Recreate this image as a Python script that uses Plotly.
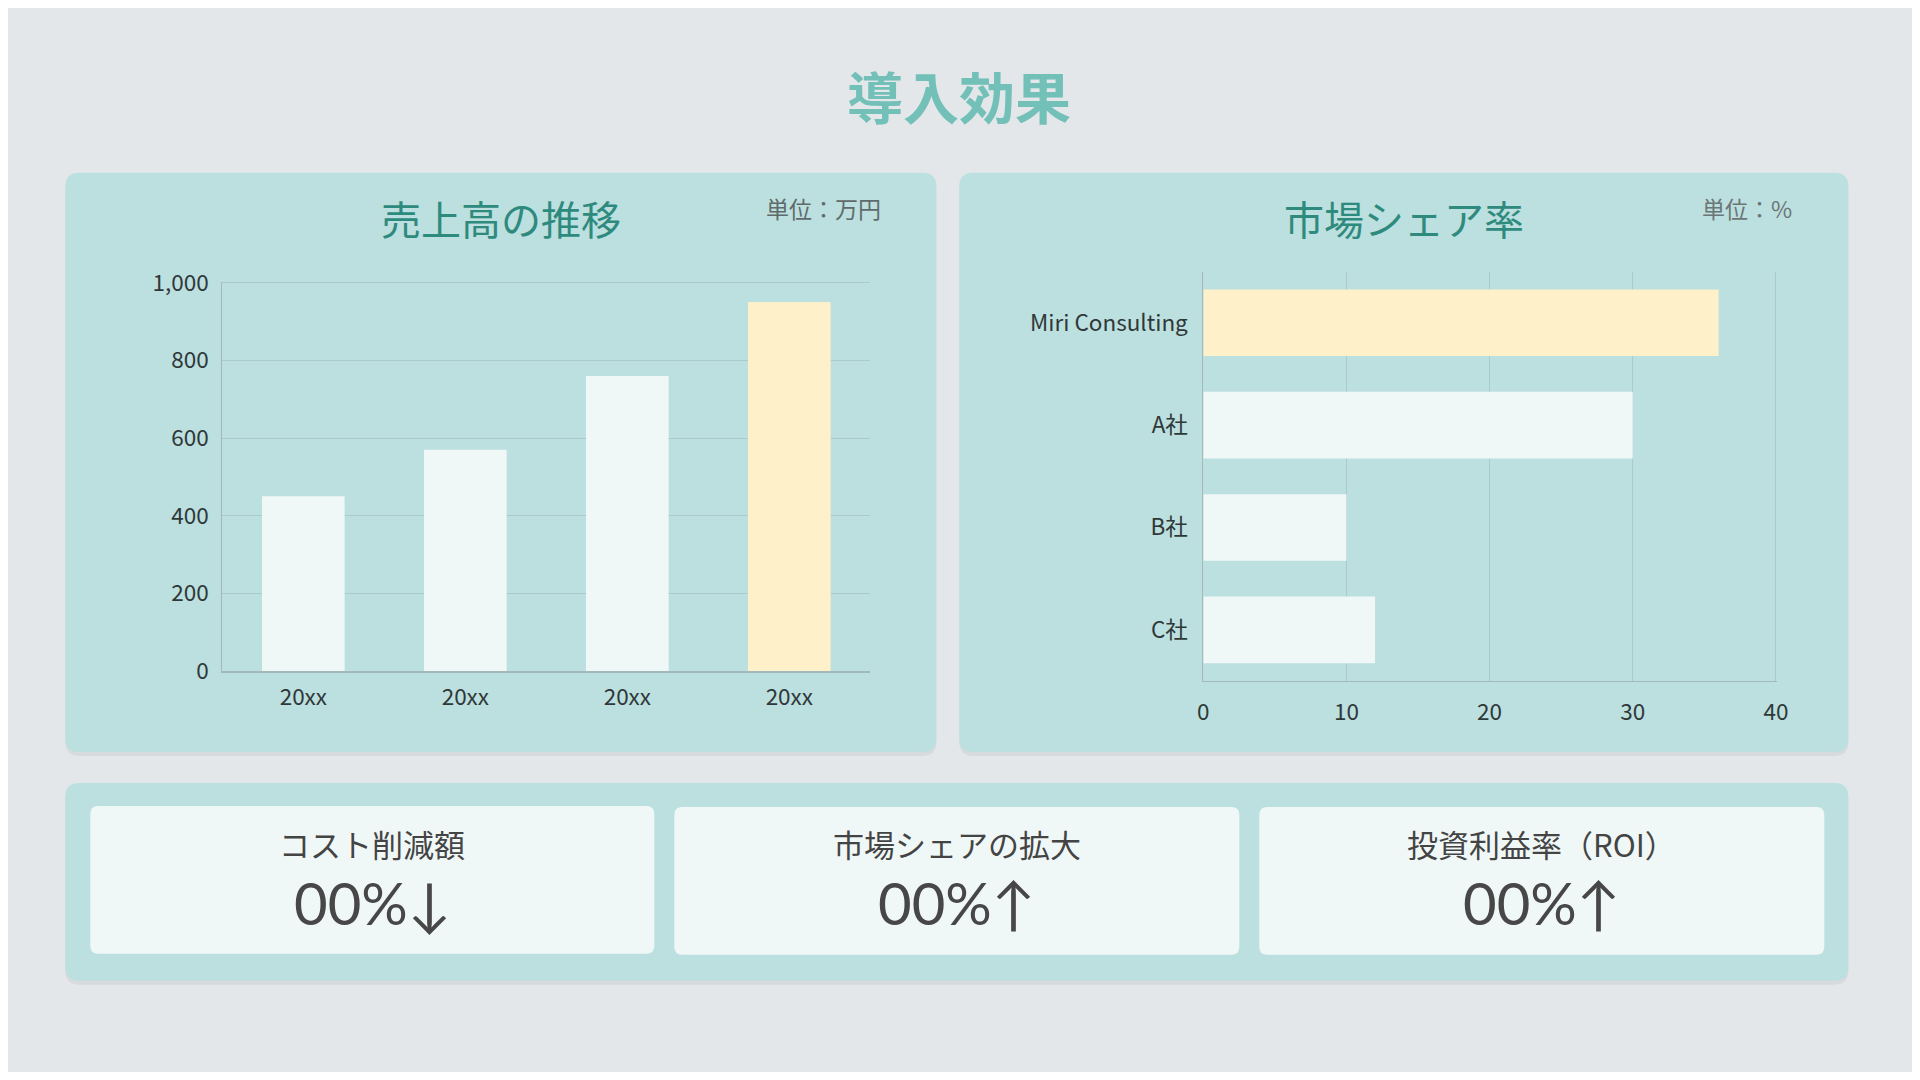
import plotly.graph_objects as go

# ── データ ─────────────────────────────────────────────
sales_years = ["20xx", "20xx", "20xx", "20xx"]
sales_values = [450, 570, 760, 950]

share_companies = ["Miri Consulting", "A社", "B社", "C社"]
share_values = [36, 30, 10, 12]

kpi_labels = ["コスト削減額", "市場シェアの拡大", "投資利益率（ROI）"]
kpi_values = ["00%↓", "00%↑", "00%↑"]

# ── 色・フォント ───────────────────────────────────────
OFF = 8
W, H = 1920 - 2 * OFF, 1080 - 2 * OFF
BG = "#e3e7ea"
PANEL = "#bcdfdf"
CARD = "#f0f8f7"
BAR = "#f0f8f7"
HILITE = "#fef0c8"
GRID = "#a9cbcb"
AXIS = "#a3b9b9"
FONT = "Noto Sans CJK JP"


# 参照画像のピクセル位置 → 図の paper 座標（表示時のずれを補正）
def px_x(x):
    return (1.009 * x - 6.8 - OFF) / W


def px_y(y):
    return 1 - (1.0288 * y - 17.9 - OFF) / H


def rounded_rect(x0, y0, x1, y1, r):
    a, b, c, d = px_x(x0), px_x(x1), px_y(y0), px_y(y1)
    rx, ry = r / W, r / H
    return (f"M{a + rx},{c} L{b - rx},{c} Q{b},{c} {b},{c - ry} "
            f"L{b},{d + ry} Q{b},{d} {b - rx},{d} "
            f"L{a + rx},{d} Q{a},{d} {a},{d + ry} "
            f"L{a},{c - ry} Q{a},{c} {a + rx},{c} Z")


fig = go.Figure()

# ── 売上高の推移 ───────────────────────────────────────
sales_x = list(range(len(sales_values)))
fig.add_trace(go.Bar(
    x=sales_x, y=sales_values,
    marker=dict(color=[HILITE if i == len(sales_values) - 1 else BAR for i in sales_x], line_width=0),
    xaxis="x", yaxis="y", hoverinfo="skip",
))

# ── 市場シェア率 ───────────────────────────────────────
fig.add_trace(go.Bar(
    x=share_values, y=share_companies, orientation="h",
    marker=dict(color=[HILITE if i == 0 else BAR for i in range(len(share_values))], line_width=0),
    xaxis="x2", yaxis="y2", hoverinfo="skip", width=0.65,
))

tick_font = dict(family=FONT, size=22.5, color="#2f3838")

fig.update_layout(
    width=W, height=H,
    margin=dict(l=0, r=0, t=0, b=0),
    paper_bgcolor=BG, plot_bgcolor="rgba(0,0,0,0)",
    showlegend=False, bargap=0.49,
    font=dict(family=FONT),
    xaxis=dict(
        domain=[px_x(223), px_x(871)], anchor="y",
        range=[-0.5, len(sales_values) - 0.5],
        tickvals=sales_x, ticktext=sales_years,
        showgrid=False, zeroline=False, showline=True, linecolor=AXIS, linewidth=2,
        ticks="", tickfont=tick_font, ticklabelstandoff=5,
    ),
    yaxis=dict(
        domain=[px_y(672), px_y(282)], anchor="x",
        range=[0, 1003], tickvals=[0, 200, 400, 600, 800, 1000], tickformat=",",
        gridcolor=GRID, gridwidth=1, zeroline=False,
        showline=True, linecolor=AXIS, linewidth=1,
        ticks="", tickfont=tick_font, ticklabelstandoff=8,
    ),
    xaxis2=dict(
        domain=[px_x(1204), px_x(1778)], anchor="y2",
        range=[0, 40.1], tickvals=[0, 10, 20, 30, 40],
        gridcolor=GRID, gridwidth=1, zeroline=False,
        showline=True, linecolor=AXIS, linewidth=1,
        ticks="", tickfont=tick_font, ticklabelstandoff=11,
    ),
    yaxis2=dict(
        domain=[px_y(682), px_y(272)], anchor="x2",
        autorange="reversed",
        showgrid=False, zeroline=False, showline=True, linecolor=AXIS, linewidth=1,
        ticks="", tickfont=tick_font, ticklabelstandoff=10,
    ),
)

# ── パネル・カード ─────────────────────────────────────
shapes = []
panels = [(66, 173, 937, 753), (960, 173, 1849, 753), (66, 784, 1849, 982)]
for x0, y0, x1, y1 in panels:
    shapes.append(dict(type="path", path=rounded_rect(x0, y0 + 4, x1, y1 + 4, 14),
                       xref="paper", yref="paper", fillcolor="rgba(0,0,0,0.05)",
                       line_width=0, layer="below"))
    shapes.append(dict(type="path", path=rounded_rect(x0, y0, x1, y1, 14),
                       xref="paper", yref="paper", fillcolor=PANEL,
                       line_width=0, layer="below"))

cards = [(91, 807, 655, 955), (675, 808, 1240, 956), (1260, 808, 1825, 956)]
for x0, y0, x1, y1 in cards:
    shapes.append(dict(type="path", path=rounded_rect(x0, y0, x1, y1, 8),
                       xref="paper", yref="paper", fillcolor=CARD,
                       line_width=0, layer="below"))
fig.update_layout(shapes=shapes)

# ── テキスト ───────────────────────────────────────────
def note(text, x, y, size, color, weight="normal", xanchor="center", family=FONT):
    fig.add_annotation(text=text, x=px_x(x), y=px_y(y), xref="paper", yref="paper",
                       xanchor=xanchor, yanchor="middle", showarrow=False,
                       font=dict(family=family, size=size, color=color, weight=weight))


note("導入効果", 960, 95, 56, "#72c0b7", weight="bold")
note("売上高の推移", 502, 218, 40, "#2f8a7e")
note("単位：万円", 884, 208, 23, "#5f6b6b", xanchor="right")
note("市場シェア率", 1405, 218, 40, "#2f8a7e")
note("単位：%", 1795, 208, 23, "#6b7676", xanchor="right")

for i, (lab, val) in enumerate(zip(kpi_labels, kpi_values)):
    cx = (cards[i][0] + cards[i][2]) / 2
    note(lab, cx, 845, 31, "#444444")
    note(val, cx, 904, 58, "#474747", family="Lato")

fig.write_html("out.html")
